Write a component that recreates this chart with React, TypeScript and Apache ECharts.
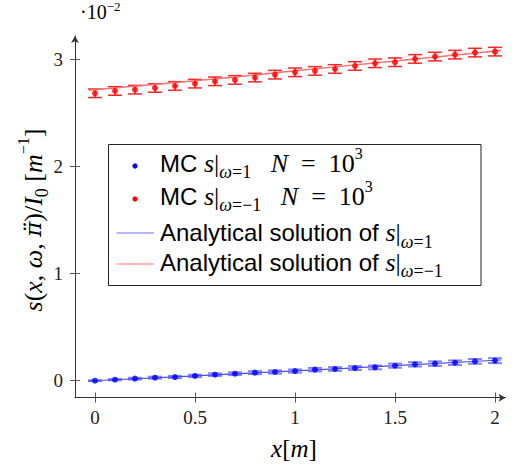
import React, { useEffect, useRef } from "react";
import * as echarts from "echarts";

// x positions of the Monte Carlo samples [m]
const xValues = [0, 0.1, 0.2, 0.3, 0.4, 0.5, 0.6, 0.7, 0.8, 0.9, 1.0, 1.1, 1.2, 1.3, 1.4, 1.5, 1.6, 1.7, 1.8, 1.9, 2.0];
// MC estimates (units of 1e-2)
const mcOmegaPlus = [0, 0.009, 0.019, 0.028, 0.034, 0.044, 0.056, 0.065, 0.075, 0.081, 0.09, 0.103, 0.109, 0.118, 0.124, 0.14, 0.152, 0.159, 0.168, 0.18, 0.187];
const mcOmegaPlusErr = [0.004, 0.006, 0.008, 0.009, 0.01, 0.011, 0.012, 0.013, 0.014, 0.015, 0.015, 0.016, 0.017, 0.018, 0.018, 0.019, 0.02, 0.021, 0.021, 0.022, 0.023];
const mcOmegaMinus = [2.683, 2.705, 2.717, 2.733, 2.752, 2.773, 2.795, 2.808, 2.83, 2.857, 2.879, 2.892, 2.91, 2.938, 2.963, 2.973, 3.004, 3.026, 3.044, 3.063, 3.072];
const mcOmegaMinusErr = [0.04, 0.04, 0.04, 0.04, 0.04, 0.04, 0.04, 0.04, 0.04, 0.04, 0.04, 0.04, 0.04, 0.04, 0.04, 0.04, 0.04, 0.04, 0.04, 0.04, 0.04];
// analytical solutions
const analyticX = [-0.03, 0.5, 1.0, 1.5, 2.03];
const analyticPlus = [-0.003, 0.045, 0.092, 0.14, 0.193];
const analyticMinus = [2.712, 2.8, 2.893, 2.985, 3.083];
// ticks
const xTicks = [0, 0.5, 1, 1.5, 2];
const yTicks = [0, 1, 2, 3];

const SERIF = "Liberation Serif";
const SANS = "Liberation Sans";

const richStyles: any = {
  sf: { fontFamily: SANS, fontSize: 24, lineHeight: 36, verticalAlign: "middle", color: "#111" },
  it: { fontFamily: SERIF, fontStyle: "italic", fontSize: 26, lineHeight: 36, verticalAlign: "middle", color: "#111" },
  dd: { fontFamily: "DejaVu Serif", fontStyle: "italic", fontSize: 23, lineHeight: 36, verticalAlign: "middle", color: "#111" },
  rm: { fontFamily: SERIF, fontSize: 26, lineHeight: 36, verticalAlign: "middle", color: "#111" },
  subi: { fontFamily: SERIF, fontStyle: "italic", fontSize: 18, lineHeight: 13, verticalAlign: "bottom", color: "#111" },
  sub: { fontFamily: SERIF, fontSize: 18, lineHeight: 13, verticalAlign: "bottom", color: "#111" },
  sup: { fontFamily: SERIF, fontSize: 16, lineHeight: 23, verticalAlign: "top", color: "#111" },
};

const legendRows = [
  { text: "{sf|MC }{it|s}{rm||}{subi|ω}{sub|=1}{rm|   }{it|N}{rm|  =  10}{sup|3}", y: 163, icon: "dot", color: "#0000ff", iconY: 166 },
  { text: "{sf|MC }{it|s}{rm||}{subi|ω}{sub|=−1}{rm|   }{it|N}{rm|  =  10}{sup|3}", y: 196, icon: "dot", color: "#ff0000", iconY: 199 },
  { text: "{sf|Analytical solution of }{it|s}{rm||}{subi|ω}{sub|=1}", y: 232.5, icon: "line", color: "#6e6eff", iconY: 233 },
  { text: "{sf|Analytical solution of }{it|s}{rm||}{subi|ω}{sub|=−1}", y: 262, icon: "line", color: "#ff7373", iconY: 264 },
];

function errorSeries(name: string, ys: number[], errs: number[], color: string, capHalf: number, width: number) {
  return {
    type: "custom",
    name,
    xAxisIndex: 0,
    yAxisIndex: 0,
    z: 3,
    data: xValues.map((x, i) => [x, ys[i] - errs[i], ys[i] + errs[i]]),
    encode: { x: 0, y: [1, 2] },
    renderItem: (_params: any, api: any) => {
      const x = api.value(0);
      const lo = api.coord([x, api.value(1)]);
      const hi = api.coord([x, api.value(2)]);
      const st = { stroke: color, lineWidth: width };
      return {
        type: "group",
        children: [
          { type: "line", shape: { x1: hi[0], y1: hi[1], x2: lo[0], y2: lo[1] }, style: st },
          { type: "line", shape: { x1: hi[0] - capHalf, y1: hi[1], x2: hi[0] + capHalf, y2: hi[1] }, style: st },
          { type: "line", shape: { x1: lo[0] - capHalf, y1: lo[1], x2: lo[0] + capHalf, y2: lo[1] }, style: st },
        ],
      };
    },
  };
}

const xMin = -0.1;
const xMax = 2.0525;
const yMin = -0.159;
const yMax = 3.218;

export default function App() {
  const ref = useRef<HTMLDivElement>(null);
  useEffect(() => {
    if (!ref.current) return;
    const chart = echarts.init(ref.current, null, { renderer: "svg" });
    const tickLabel = { fontFamily: SERIF, fontSize: 19, color: "#222" };
    const graphics: any[] = [
      {
        type: "rect",
        shape: { x: 108.5, y: 144.5, width: 372.5, height: 141 },
        style: { fill: "#fff", stroke: "#222", lineWidth: 1 },
        z: 10,
      },
      {
        type: "text",
        x: 33,
        y: 220,
        rotation: Math.PI / 2,
        style: {
          text: "{it|s}{rm|(}{it|x}{rm|, }{it|ω}{rm|, }{dd|π̈}{rm|)/}{it|I}{sub|0}{rm| [}{it|m}{sup|−1}{rm|]}",
          rich: richStyles,
          align: "center",
          verticalAlign: "middle",
        },
        z: 10,
      },
      {
        type: "text",
        x: 294,
        y: 448,
        style: {
          text: "{it|x}{rm|[}{it|m}{rm|]}",
          rich: {
            it: { fontFamily: SERIF, fontStyle: "italic", fontSize: 25, color: "#111" },
            rm: { fontFamily: SERIF, fontSize: 25, color: "#111" },
          },
          align: "center",
          verticalAlign: "middle",
        },
        z: 10,
      },
      {
        type: "text",
        x: 80,
        y: 0,
        style: {
          text: "{m|·10}{s|−2}",
          rich: {
            m: { fontFamily: SERIF, fontSize: 20, lineHeight: 24, verticalAlign: "middle", color: "#111" },
            s: { fontFamily: SERIF, fontSize: 13, lineHeight: 11, verticalAlign: "top", color: "#111" },
          },
          align: "left",
          verticalAlign: "top",
        },
        z: 10,
      },
    ];
    legendRows.forEach((r) => {
      if (r.icon === "dot") {
        graphics.push({ type: "circle", shape: { cx: 135, cy: r.iconY, r: 2.6 }, style: { fill: r.color }, z: 11 });
      } else {
        graphics.push({ type: "line", shape: { x1: 116.5, y1: r.iconY, x2: 154, y2: r.iconY }, style: { stroke: r.color, lineWidth: 1.2 }, z: 11 });
      }
      graphics.push({
        type: "text",
        x: 160,
        y: r.y,
        style: { text: r.text, rich: richStyles, align: "left", verticalAlign: "middle" },
        z: 11,
      });
    });

    const baseX = { type: "value", min: xMin, max: xMax, position: "bottom", splitLine: { show: false } };
    const baseY = { type: "value", min: yMin, max: yMax, position: "left", splitLine: { show: false } };

    chart.setOption({
      animation: false,
      grid: { left: 75, right: 8.5, top: 36, bottom: 70.3, containLabel: false, outerBoundsMode: "none" },
      xAxis: [
        {
          ...baseX,
          axisLine: { show: true, onZero: false, symbol: ["none", "arrow"], symbolSize: [6, 7], lineStyle: { color: "#333", width: 1 } },
          axisTick: { show: true, customValues: xTicks, length: 5, lineStyle: { color: "#555" } },
          axisLabel: { show: true, customValues: xTicks, margin: 10, ...tickLabel },
        },
        {
          ...baseX,
          axisLine: { show: false, onZero: false },
          axisTick: { show: true, inside: true, customValues: xTicks, length: 5, lineStyle: { color: "#555" } },
          axisLabel: { show: false },
        },
      ],
      yAxis: [
        {
          ...baseY,
          axisLine: { show: true, onZero: false, symbol: ["none", "arrow"], symbolSize: [6, 7], lineStyle: { color: "#333", width: 1 } },
          axisTick: { show: true, customValues: yTicks, length: 5, lineStyle: { color: "#555" } },
          axisLabel: { show: true, customValues: yTicks, margin: 12, ...tickLabel },
        },
        {
          ...baseY,
          axisLine: { show: false, onZero: false },
          axisTick: { show: true, inside: true, customValues: yTicks, length: 5, lineStyle: { color: "#555" } },
          axisLabel: { show: false },
        },
      ],
      series: [
        errorSeries("err+", mcOmegaPlus, mcOmegaPlusErr, "rgba(90,90,255,0.75)", 7, 2),
        errorSeries("err-", mcOmegaMinus, mcOmegaMinusErr, "rgba(255,0,0,0.85)", 7, 1.5),
        {
          type: "line",
          name: "Analytical solution of s|ω=1",
          data: analyticX.map((x, i) => [x, analyticPlus[i]]),
          smooth: true,
          showSymbol: false,
          symbol: "none",
          lineStyle: { color: "#4b4bff", width: 1.2 },
          z: 4,
        },
        {
          type: "line",
          name: "Analytical solution of s|ω=-1",
          data: analyticX.map((x, i) => [x, analyticMinus[i]]),
          smooth: true,
          showSymbol: false,
          symbol: "none",
          lineStyle: { color: "#ff6f6f", width: 1.5 },
          z: 4,
        },
        {
          type: "scatter",
          name: "MC s|ω=1 N=10^3",
          data: xValues.map((x, i) => [x, mcOmegaPlus[i]]),
          symbol: "circle",
          symbolSize: 6,
          itemStyle: { color: "#0000ff" },
          z: 5,
        },
        {
          type: "scatter",
          name: "MC s|ω=-1 N=10^3",
          data: xValues.map((x, i) => [x, mcOmegaMinus[i]]),
          symbol: "circle",
          symbolSize: 6,
          itemStyle: { color: "#ff0000" },
          z: 5,
        },
      ],
      graphic: graphics,
    });
    return () => chart.dispose();
  }, []);
  return <div ref={ref} style={{ position: "absolute", left: 0, top: 0, width: 514, height: 468 }} />;
}
